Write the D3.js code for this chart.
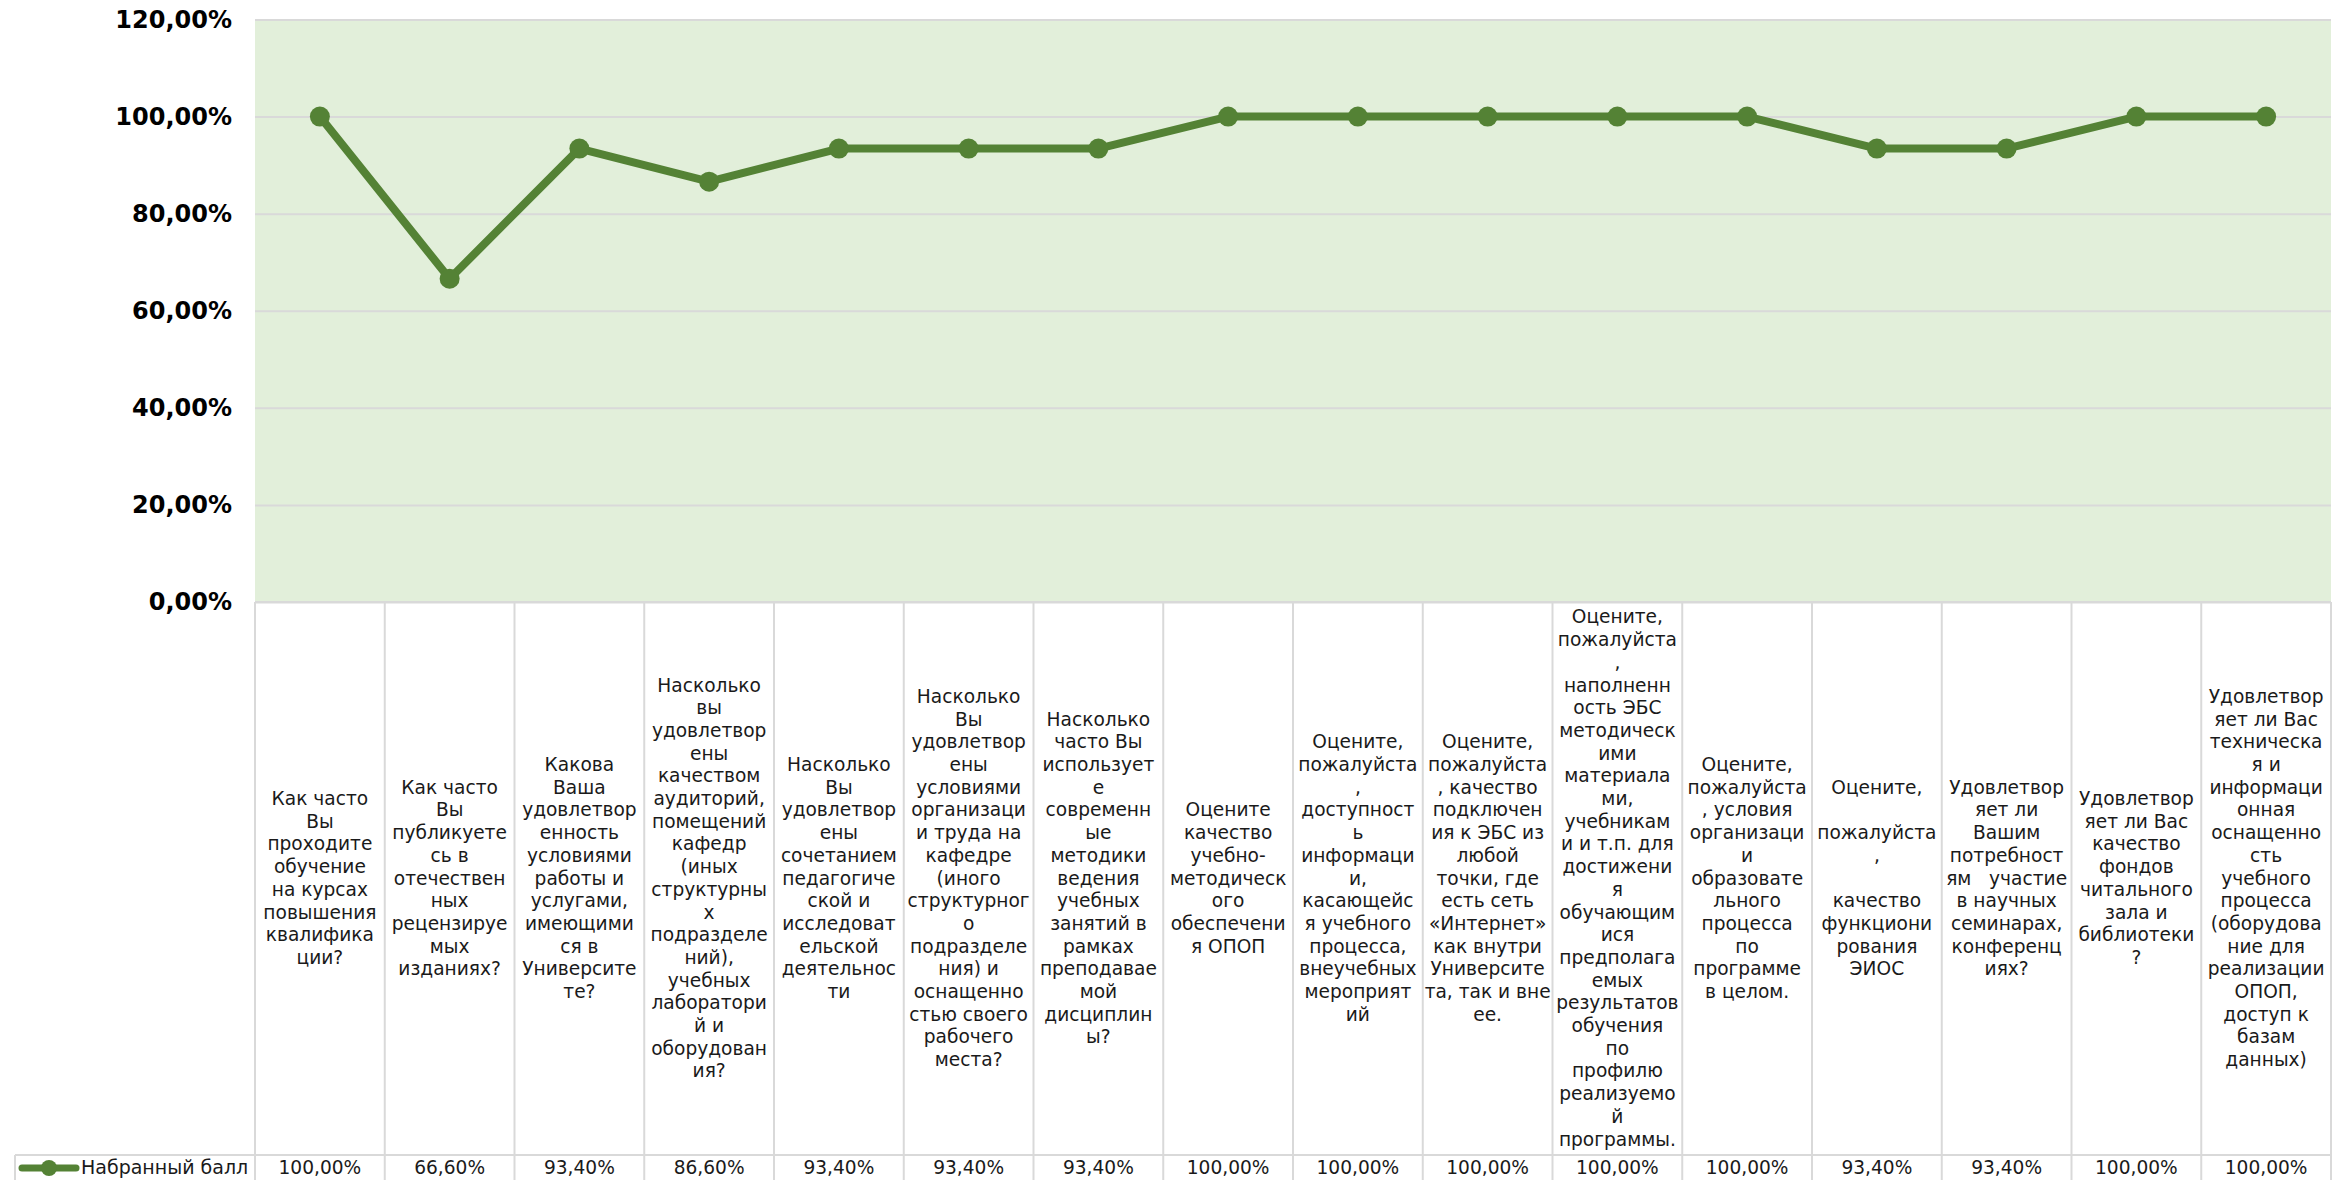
<!DOCTYPE html>
<html>
<head>
<meta charset="utf-8">
<script src="https://cdn.jsdelivr.net/npm/d3@7"></script>
<style>
body { margin: 0; background: #fff; }
text { font-family: "DejaVu Sans", sans-serif; }
</style>
</head>
<body>
<div id="chart"></div>
<script>
// data
var categories = [
    "Как часто\nВы\nпроходите\nобучение\nна курсах\nповышения\nквалифика\nции?",
    "Как часто\nВы\nпубликуете\nсь в\nотечествен\nных\nрецензируе\nмых\nизданиях?",
    "Какова\nВаша\nудовлетвор\nенность\nусловиями\nработы и\nуслугами,\nимеющими\nся в\nУниверсите\nте?",
    "Насколько\nвы\nудовлетвор\nены\nкачеством\nаудиторий,\nпомещений\nкафедр\n(иных\nструктурны\nх\nподразделе\nний),\nучебных\nлаборатори\nй и\nоборудован\nия?",
    "Насколько\nВы\nудовлетвор\nены\nсочетанием\nпедагогиче\nской и\nисследоват\nельской\nдеятельнос\nти",
    "Насколько\nВы\nудовлетвор\nены\nусловиями\nорганизаци\nи труда на\nкафедре\n(иного\nструктурног\nо\nподразделе\nния) и\nоснащенно\nстью своего\nрабочего\nместа?",
    "Насколько\nчасто Вы\nиспользует\nе\nсовременн\nые\nметодики\nведения\nучебных\nзанятий в\nрамках\nпреподавае\nмой\nдисциплин\nы?",
    "Оцените\nкачество\nучебно-\nметодическ\nого\nобеспечени\nя ОПОП",
    "Оцените,\nпожалуйста\n,\nдоступност\nь\nинформаци\nи,\nкасающейс\nя учебного\nпроцесса,\nвнеучебных\nмероприят\nий",
    "Оцените,\nпожалуйста\n, качество\nподключен\nия к ЭБС из\nлюбой\nточки, где\nесть сеть\n«Интернет»\nкак внутри\nУниверсите\nта, так и вне\nее.",
    "Оцените,\nпожалуйста\n,\nнаполненн\nость ЭБС\nметодическ\nими\nматериала\nми,\nучебникам\nи и т.п. для\nдостижени\nя\nобучающим\nися\nпредполага\nемых\nрезультатов\nобучения\nпо\nпрофилю\nреализуемо\nй\nпрограммы.",
    "Оцените,\nпожалуйста\n, условия\nорганизаци\nи\nобразовате\nльного\nпроцесса\nпо\nпрограмме\nв целом.",
    "Оцените,\n\nпожалуйста\n,\n\nкачество\nфункциони\nрования\nЭИОС",
    "Удовлетвор\nяет ли\nВашим\nпотребност\nям   участие\nв научных\nсеминарах,\nконференц\nиях?",
    "Удовлетвор\nяет ли Вас\nкачество\nфондов\nчитального\nзала и\nбиблиотеки\n?",
    "Удовлетвор\nяет ли Вас\nтехническа\nя и\nинформаци\nонная\nоснащенно\nсть\nучебного\nпроцесса\n(оборудова\nние для\nреализации\nОПОП,\nдоступ к\nбазам\nданных)"
]
var values = [100, 66.6, 93.4, 86.6, 93.4, 93.4, 93.4, 100, 100, 100, 100, 100, 93.4, 93.4, 100, 100]
var yTicks = [0, 20, 40, 60, 80, 100, 120]
var seriesName = "Набранный балл"

var width = 2348,
    height = 1180,
    plotLeft = 255,
    plotRight = 2331,
    plotTop = 19.5,
    plotBottom = 602,
    tableBottom = 1155,
    tableLeft = 15,
    lineH = 22.7,
    green = "#548235",
    grid = "#d9d9d9"

var ru = d3.formatLocale({decimal: ",", thousands: " ", grouping: [3], currency: ["", ""]})
var pct = function (d) { return ru.format(".2f")(d) + "%" }

var svg = d3.select("#chart").append("svg")
    .attr("width", width)
    .attr("height", height)

var x = d3.scaleBand()
    .domain(d3.range(categories.length))
    .range([plotLeft, plotRight])

var y = d3.scaleLinear()
    .domain([0, 120])
    .range([plotBottom, plotTop])

// plot background
svg.append("rect")
    .attr("x", plotLeft)
    .attr("y", plotTop)
    .attr("width", plotRight - plotLeft)
    .attr("height", plotBottom - plotTop)
    .attr("fill", "#e2efda")

// gridlines
var gridAxis = d3.axisRight(y)
    .tickValues(yTicks)
    .tickSize(plotRight - plotLeft)
    .tickFormat("")
svg.append("g")
    .attr("transform", "translate(" + plotLeft + ",0)")
    .call(gridAxis)
    .call(function (g) { g.select(".domain").remove() })
    .selectAll("line")
    .attr("stroke", grid)
    .attr("stroke-width", 2)

// y axis labels
var yAxis = d3.axisLeft(y)
    .tickValues(yTicks)
    .tickSize(0)
    .tickPadding(23)
    .tickFormat(pct)
svg.append("g")
    .attr("transform", "translate(" + plotLeft + ",0)")
    .call(yAxis)
    .call(function (g) { g.select(".domain").remove() })
    .selectAll("text")
    .attr("font-family", "DejaVu Sans")
    .attr("font-size", 24)
    .attr("font-weight", "bold")
    .attr("fill", "#000")

// data table: grid lines
var tbl = svg.append("g").attr("stroke", grid).attr("stroke-width", 2)
tbl.append("line")
    .attr("x1", plotLeft).attr("x2", plotRight)
    .attr("y1", plotBottom).attr("y2", plotBottom)
tbl.append("line")
    .attr("x1", tableLeft).attr("x2", plotRight)
    .attr("y1", tableBottom).attr("y2", tableBottom)
tbl.append("line")
    .attr("x1", tableLeft).attr("x2", tableLeft)
    .attr("y1", tableBottom).attr("y2", height)
tbl.selectAll(".col")
    .data(d3.range(categories.length + 1))
    .enter().append("line")
    .attr("class", "col")
    .attr("x1", function (i) { return plotLeft + i * x.step() })
    .attr("x2", function (i) { return plotLeft + i * x.step() })
    .attr("y1", plotBottom)
    .attr("y2", height)

// category labels
var midRow = (plotBottom + tableBottom) / 2
svg.selectAll(".cat")
    .data(categories)
    .enter().append("text")
    .attr("class", "cat")
    .attr("text-anchor", "middle")
    .attr("font-size", 18.6)
    .attr("fill", "#1a1a1a")
    .each(function (d, i) {
        var lines = d.split("\n")
        var top = midRow - (lines.length - 1) * lineH / 2 + 6
        var t = d3.select(this)
        lines.forEach(function (l, k) {
            t.append("tspan")
                .attr("x", x(i) + x.bandwidth() / 2)
                .attr("y", top + k * lineH)
                .attr("xml:space", "preserve")
                .text(l)
        })
    })

// value row
svg.selectAll(".val")
    .data(values)
    .enter().append("text")
    .attr("class", "val")
    .attr("x", function (d, i) { return x(i) + x.bandwidth() / 2 })
    .attr("y", 1174)
    .attr("text-anchor", "middle")
    .attr("font-size", 18.6)
    .attr("fill", "#1a1a1a")
    .text(pct)

// legend key
svg.append("line")
    .attr("x1", 22).attr("x2", 76)
    .attr("y1", 1168).attr("y2", 1168)
    .attr("stroke", green)
    .attr("stroke-width", 7)
    .attr("stroke-linecap", "round")
svg.append("circle")
    .attr("cx", 49).attr("cy", 1168).attr("r", 8)
    .attr("fill", green)
svg.append("text")
    .attr("x", 81).attr("y", 1174)
    .attr("font-size", 19)
    .attr("fill", "#1a1a1a")
    .text(seriesName)

// series line
var line = d3.line()
    .x(function (d, i) { return x(i) + x.bandwidth() / 2 })
    .y(function (d) { return y(d) })

svg.append("path")
    .datum(values)
    .attr("d", line)
    .attr("fill", "none")
    .attr("stroke", green)
    .attr("stroke-width", 8)
    .attr("stroke-linejoin", "round")

svg.selectAll(".dot")
    .data(values)
    .enter().append("circle")
    .attr("class", "dot")
    .attr("cx", function (d, i) { return x(i) + x.bandwidth() / 2 })
    .attr("cy", function (d) { return y(d) })
    .attr("r", 10)
    .attr("fill", green)
</script>
</body>
</html>
